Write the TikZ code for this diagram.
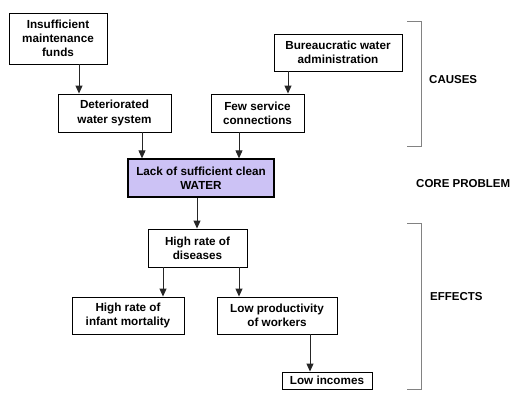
\documentclass[tikz,border=0pt]{standalone}
\usepackage{fontspec}
\setmainfont{Liberation Sans}
\usetikzlibrary{arrows.meta,shadows}
\definecolor{corefill}{RGB}{204,194,245}
\definecolor{brk}{RGB}{130,130,130}
\tikzset{
  box/.style={draw=black, line width=0.9pt, fill=white, align=center, inner sep=1pt,
    font=\fontsize{11.7}{14.3}\selectfont\bfseries,
    drop shadow={shadow xshift=1pt, shadow yshift=-1pt, fill=gray!80, opacity=1}},
  corebox/.style={box, fill=corefill, line width=1.3pt},
  arr/.style={draw=black!85, line width=0.9pt, -{Triangle[length=8pt,width=7pt]}},
  bracket/.style={draw=brk, line width=0.9pt},
  lbl/.style={anchor=west, inner sep=0pt, font=\fontsize{11.5}{13.5}\selectfont\bfseries}
}
\begin{document}
\begin{tikzpicture}[x=1pt,y=-1pt]
\useasboundingbox (0,0) rectangle (516,402);
\node[box, minimum width=98pt, minimum height=51pt] (ins) at (58,38.5) {Insufficient\\maintenance\\funds};
\node[box, minimum width=113pt, minimum height=38pt] (det) at (114.5,113) {Deteriorated\\water system};
\node[box, minimum width=93pt, minimum height=38pt] (few) at (257.5,113) {Few service\\connections};
\node[box, minimum width=128pt, minimum height=37pt] (bur) at (338,52.5) {Bureaucratic water\\administration};
\node[corebox, minimum width=146pt, minimum height=38pt] (lack) at (201,178) {Lack of sufficient clean\\WATER};
\node[box, minimum width=99pt, minimum height=38pt] (dis) at (197.5,248) {High rate of\\diseases};
\node[box, minimum width=112pt, minimum height=37pt] (inf) at (128,315.5) {High rate of\\infant mortality};
\node[box, minimum width=120pt, minimum height=37pt] (prod) at (277,315.5) {Low productivity\\of workers};
\node[box, minimum width=90pt, minimum height=17pt] (inc) at (327,380.5) {Low incomes};

\draw[arr] ([xshift=21pt]ins.south) -- ([xshift=-35.5pt]det.north);
\draw[arr] ([xshift=27.5pt]det.south) -- ([xshift=-59pt]lack.north);
\draw[arr] ([xshift=-18.5pt]few.south) -- ([xshift=38pt]lack.north);
\draw[arr] ([xshift=-50pt]bur.south) -- ([xshift=30.5pt]few.north);
\draw[arr] ([xshift=-4pt]lack.south) -- ([xshift=-0.5pt]dis.north);
\draw[arr] ([xshift=-34.5pt]dis.south) -- ([xshift=35pt]inf.north);
\draw[arr] ([xshift=41.5pt]dis.south) -- ([xshift=-38pt]prod.north);
\draw[arr] ([xshift=33pt]prod.south) -- ([xshift=-17pt]inc.north);

\draw[bracket] (407,21) -- (421,21) -- (421,146) -- (407,146);
\draw[bracket] (407,223) -- (421,223) -- (421,389) -- (407,389);

\node[lbl] (causes) at (429,80) {CAUSES};
\node[lbl] (core) at (416,184) {CORE PROBLEM};
\node[lbl] (effects) at (430,297) {EFFECTS};
\end{tikzpicture}
\end{document}
